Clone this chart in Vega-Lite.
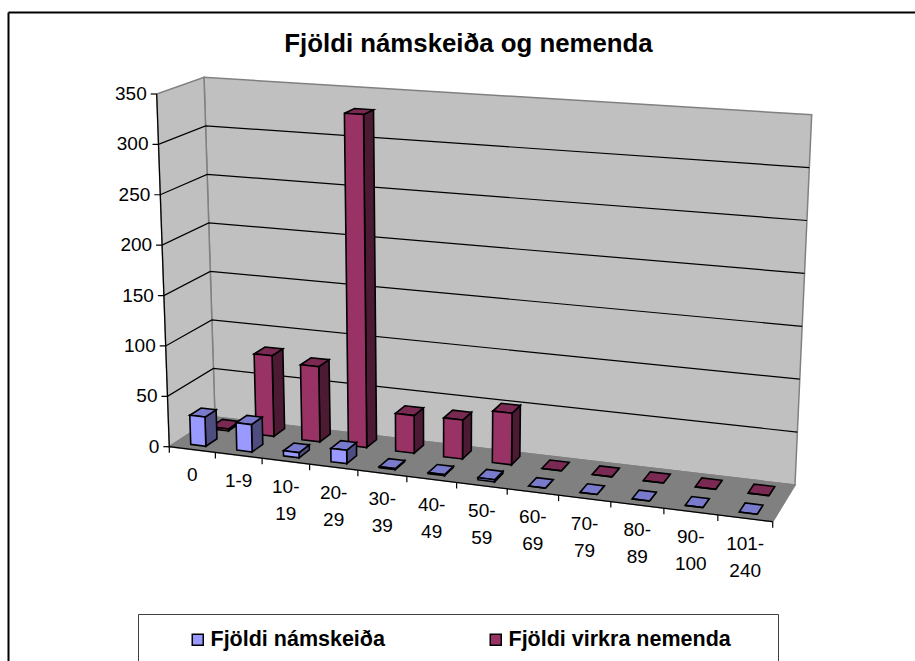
{
"$schema":"https://vega.github.io/schema/vega-lite/v6.json",
"width":907,"height":649,"autosize":{"type":"none"},"padding":{"left":8,"top":12,"right":0,"bottom":0},
"background":"white",
"config":{"view":{"stroke":null},"font":"Liberation Sans"},
"title":{"text":"Fjöldi námskeiða og nemenda","font":"Liberation Sans","fontSize":25.8,"fontWeight":"bold","color":"black","anchor":"middle","dx":7,"dy":66,"offset":0,"baseline":"alphabetic"},
"datasets":{
"bars":[
{"kategoria":"0","idx":0,"series":"Fjöldi virkra nemenda","value":2},
{"kategoria":"1-9","idx":1,"series":"Fjöldi virkra nemenda","value":81},
{"kategoria":"10-19","idx":2,"series":"Fjöldi virkra nemenda","value":75},
{"kategoria":"20-29","idx":3,"series":"Fjöldi virkra nemenda","value":330},
{"kategoria":"30-39","idx":4,"series":"Fjöldi virkra nemenda","value":37},
{"kategoria":"40-49","idx":5,"series":"Fjöldi virkra nemenda","value":38},
{"kategoria":"50-59","idx":6,"series":"Fjöldi virkra nemenda","value":50},
{"kategoria":"60-69","idx":7,"series":"Fjöldi virkra nemenda","value":0},
{"kategoria":"70-79","idx":8,"series":"Fjöldi virkra nemenda","value":0},
{"kategoria":"80-89","idx":9,"series":"Fjöldi virkra nemenda","value":0},
{"kategoria":"90-100","idx":10,"series":"Fjöldi virkra nemenda","value":0},
{"kategoria":"101-240","idx":11,"series":"Fjöldi virkra nemenda","value":0},
{"kategoria":"0","idx":0,"series":"Fjöldi námskeiða","value":29},
{"kategoria":"1-9","idx":1,"series":"Fjöldi námskeiða","value":27},
{"kategoria":"10-19","idx":2,"series":"Fjöldi námskeiða","value":5},
{"kategoria":"20-29","idx":3,"series":"Fjöldi námskeiða","value":13},
{"kategoria":"30-39","idx":4,"series":"Fjöldi námskeiða","value":1},
{"kategoria":"40-49","idx":5,"series":"Fjöldi námskeiða","value":1},
{"kategoria":"50-59","idx":6,"series":"Fjöldi námskeiða","value":2},
{"kategoria":"60-69","idx":7,"series":"Fjöldi námskeiða","value":0},
{"kategoria":"70-79","idx":8,"series":"Fjöldi námskeiða","value":0},
{"kategoria":"80-89","idx":9,"series":"Fjöldi námskeiða","value":0},
{"kategoria":"90-100","idx":10,"series":"Fjöldi námskeiða","value":0},
{"kategoria":"101-240","idx":11,"series":"Fjöldi námskeiða","value":0}
],
"ticks":[{"value":0},{"value":50},{"value":100},{"value":150},{"value":200},{"value":250},{"value":300},{"value":350}]
},
"layer":[
{"data":{"name":"bars"},"mark":{"type":"point","opacity":0},
"encoding":{
"x":{"field":"kategoria","type":"ordinal","sort":null,"axis":{"orient":"top","labels":false,"ticks":false,"title":null,"grid":false,"domainColor":"black","domainWidth":2}},
"y":{"field":"value","type":"quantitative","axis":{"orient":"left","labels":false,"ticks":false,"title":null,"grid":false,"domainColor":"black","domainWidth":2}}}},
{"data":{"values":[{"plane":"back"},{"plane":"side"},{"plane":"floor"}]},
"transform":[
{"calculate":"[0,1,2,3]","as":"k"},{"flatten":["k"]},
{"calculate":"datum.plane=='side'?0:((datum.k==1||datum.k==2)?12:0)","as":"cc"},
{"calculate":"datum.plane=='back'?1:datum.plane=='side'?((datum.k==1||datum.k==2)?1:0):(datum.k>=2?1:0)","as":"dd"},
{"calculate":"datum.plane=='floor'?0:(datum.k>=2?1:0)","as":"tt"},
{"calculate":"(datum.cc/12)/((datum.cc/12)+1.1*(1-datum.cc/12))","as":"uu"},
{"calculate":"(1-datum.tt)*((1-datum.dd)*((1-datum.uu)*169.3+datum.uu*772.7)+datum.dd*((1-datum.uu)*215+datum.uu*795))+datum.tt*((1-datum.dd)*((1-datum.uu)*156.7+datum.uu*790.7)+datum.dd*((1-datum.uu)*204+datum.uu*811.7))","as":"X"},
{"calculate":"(1-datum.tt)*((1-datum.dd)*((1-datum.uu)*446.7+datum.uu*521.7)+datum.dd*((1-datum.uu)*417+datum.uu*485))+datum.tt*((1-datum.dd)*((1-datum.uu)*94+datum.uu*137)+datum.dd*((1-datum.uu)*77.3+datum.uu*114.7))","as":"Y"},
{"aggregate":[{"op":"values","as":"p"}],"groupby":["plane"]},
{"calculate":"{type:'Feature',properties:{},geometry:{type:'Polygon',coordinates:[[[datum.p[0].X,datum.p[0].Y],[datum.p[1].X,datum.p[1].Y],[datum.p[2].X,datum.p[2].Y],[datum.p[3].X,datum.p[3].Y],[datum.p[0].X,datum.p[0].Y]]]}}","as":"geo"}
],
"projection":{"type":"identity","scale":1,"translate":[-8,-12]},
"mark":{"type":"geoshape","stroke":"#808080","strokeWidth":1.5},
"encoding":{"shape":{"field":"geo","type":"geojson"},"fill":{"condition":{"test":"datum.plane=='floor'","value":"#808080"},"value":"#C0C0C0"}}},
{"data":{"name":"ticks"},
"transform":[
{"calculate":"[0,1,2,3]","as":"k"},{"flatten":["k"]},
{"calculate":"(datum.value>0&&datum.value<350&&datum.k==3)?12:0","as":"cc"},
{"calculate":"(datum.value>0&&datum.value<350&&datum.k>=2)?1:0","as":"dd"},
{"calculate":"datum.value/350","as":"tt"},
{"calculate":"(datum.cc/12)/((datum.cc/12)+1.1*(1-datum.cc/12))","as":"uu"},
{"calculate":"(datum.k==0?-6:0)+(1-datum.tt)*((1-datum.dd)*((1-datum.uu)*169.3+datum.uu*772.7)+datum.dd*((1-datum.uu)*215+datum.uu*795))+datum.tt*((1-datum.dd)*((1-datum.uu)*156.7+datum.uu*790.7)+datum.dd*((1-datum.uu)*204+datum.uu*811.7))","as":"X"},
{"calculate":"(1-datum.tt)*((1-datum.dd)*((1-datum.uu)*446.7+datum.uu*521.7)+datum.dd*((1-datum.uu)*417+datum.uu*485))+datum.tt*((1-datum.dd)*((1-datum.uu)*94+datum.uu*137)+datum.dd*((1-datum.uu)*77.3+datum.uu*114.7))","as":"Y"},
{"aggregate":[{"op":"values","as":"p"}],"groupby":["value"]},
{"calculate":"{type:'Feature',properties:{},geometry:{type:'LineString',coordinates:[[datum.p[0].X,datum.p[0].Y],[datum.p[1].X,datum.p[1].Y],[datum.p[2].X,datum.p[2].Y],[datum.p[3].X,datum.p[3].Y]]}}","as":"geo"}
],
"projection":{"type":"identity","scale":1,"translate":[-8,-12]},
"mark":{"type":"geoshape","filled":false,"stroke":"black","strokeWidth":1.2},
"encoding":{"shape":{"field":"geo","type":"geojson"}}},
{"data":{"values":[{"line":"y","pos":0},{"line":"x","pos":0},{"line":"t","pos":0},{"line":"t","pos":1},{"line":"t","pos":2},{"line":"t","pos":3},{"line":"t","pos":4},{"line":"t","pos":5},{"line":"t","pos":6},{"line":"t","pos":7},{"line":"t","pos":8},{"line":"t","pos":9},{"line":"t","pos":10},{"line":"t","pos":11},{"line":"t","pos":12}]},
"transform":[
{"calculate":"[0,1]","as":"k"},{"flatten":["k"]},
{"calculate":"datum.line=='x'?datum.k*12:datum.line=='t'?datum.pos:0","as":"cc"},
{"calculate":"0","as":"dd"},
{"calculate":"datum.line=='y'?datum.k:0","as":"tt"},
{"calculate":"(datum.cc/12)/((datum.cc/12)+1.1*(1-datum.cc/12))","as":"uu"},
{"calculate":"(1-datum.tt)*((1-datum.uu)*169.3+datum.uu*772.7)+datum.tt*((1-datum.uu)*156.7+datum.uu*790.7)","as":"X"},
{"calculate":"(datum.line=='t'&&datum.k==1?6:0)+(1-datum.tt)*((1-datum.uu)*446.7+datum.uu*521.7)+datum.tt*((1-datum.uu)*94+datum.uu*137)","as":"Y"},
{"aggregate":[{"op":"values","as":"p"}],"groupby":["line","pos"]},
{"calculate":"{type:'Feature',properties:{},geometry:{type:'LineString',coordinates:[[datum.p[0].X,datum.p[0].Y],[datum.p[1].X,datum.p[1].Y]]}}","as":"geo"}
],
"projection":{"type":"identity","scale":1,"translate":[-8,-12]},
"mark":{"type":"geoshape","filled":false,"stroke":"black","strokeWidth":1.2},
"encoding":{"shape":{"field":"geo","type":"geojson"}}},
{"data":{"name":"bars"},
"transform":[
{"calculate":"['side','top','front']","as":"face"},{"flatten":["face"]},
{"calculate":"[0,1,2,3]","as":"k"},{"flatten":["k"]},
{"calculate":"datum.series=='Fjöldi námskeiða'?0.14:0.65","as":"d0"},
{"calculate":"datum.series=='Fjöldi námskeiða'?0.33:0.27","as":"c0"},
{"calculate":"datum.idx+(datum.face=='side'||datum.k==1||datum.k==2?0.66:datum.c0)","as":"cc"},
{"calculate":"datum.d0+(datum.face=='front'?0:datum.face=='side'?((datum.k==1||datum.k==2)?0.25:0):(datum.k>=2?0.25:0))","as":"dd"},
{"calculate":"(datum.face=='top'||datum.k>=2)?datum.value/350:0","as":"tt"},
{"calculate":"(datum.cc/12)/((datum.cc/12)+1.1*(1-datum.cc/12))","as":"uu"},
{"calculate":"(1-datum.tt)*((1-datum.dd)*((1-datum.uu)*169.3+datum.uu*772.7)+datum.dd*((1-datum.uu)*215+datum.uu*795))+datum.tt*((1-datum.dd)*((1-datum.uu)*156.7+datum.uu*790.7)+datum.dd*((1-datum.uu)*204+datum.uu*811.7))","as":"X"},
{"calculate":"(1-datum.tt)*((1-datum.dd)*((1-datum.uu)*446.7+datum.uu*521.7)+datum.dd*((1-datum.uu)*417+datum.uu*485))+datum.tt*((1-datum.dd)*((1-datum.uu)*94+datum.uu*137)+datum.dd*((1-datum.uu)*77.3+datum.uu*114.7))","as":"Y"},
{"aggregate":[{"op":"values","as":"p"}],"groupby":["series","idx","face"]},
{"calculate":"datum.face=='front'?datum.series:datum.series+' '+datum.face","as":"key"},
{"calculate":"{type:'Feature',properties:{},geometry:{type:'Polygon',coordinates:[[[datum.p[0].X,datum.p[0].Y],[datum.p[1].X,datum.p[1].Y],[datum.p[2].X,datum.p[2].Y],[datum.p[3].X,datum.p[3].Y],[datum.p[0].X,datum.p[0].Y]]]}}","as":"geo"}
],
"projection":{"type":"identity","scale":1,"translate":[-8,-12]},
"mark":{"type":"geoshape","stroke":"black","strokeWidth":1.6},
"encoding":{"shape":{"field":"geo","type":"geojson"},
"fill":{"field":"key","type":"nominal","scale":{"domain":["Fjöldi námskeiða","Fjöldi virkra nemenda","Fjöldi námskeiða side","Fjöldi námskeiða top","Fjöldi virkra nemenda side","Fjöldi virkra nemenda top"],"range":["#9999FF","#993366","#4D4D80","#7A7ACC","#4D1A33","#7A2952"]},
"legend":{"values":["Fjöldi námskeiða","Fjöldi virkra nemenda"],"title":"\u00a0","titleOrient":"right","titlePadding":32,"titleFontSize":10,"orient":"none","legendX":130,"legendY":602,"direction":"horizontal","columns":2,"gridAlign":"none","columnPadding":66,"padding":15,"symbolOffset":34,"strokeColor":"#404040","fillColor":"white","symbolType":"square","symbolSize":121,"symbolStrokeColor":"black","symbolStrokeWidth":1.5,"labelFont":"Liberation Sans","labelFontSize":21.5,"labelFontWeight":"bold","labelColor":"black","labelOffset":2,"labelLimit":500}}}},
{"data":{"name":"ticks"},
"transform":[
{"calculate":"datum.value/350","as":"tt"},
{"calculate":"(1-datum.tt)*169.3+datum.tt*156.7","as":"X"},
{"calculate":"(1-datum.tt)*446.7+datum.tt*94","as":"Y"}
],
"projection":{"type":"identity","scale":1,"translate":[-8,-12]},
"mark":{"type":"text","align":"right","baseline":"middle","dx":-10,"fontSize":19,"font":"Liberation Sans","color":"black"},
"encoding":{"longitude":{"field":"X","type":"quantitative"},"latitude":{"field":"Y","type":"quantitative"},"text":{"field":"value","type":"quantitative"}}},
{"data":{"name":"bars"},
"transform":[
{"filter":"datum.series=='Fjöldi námskeiða'"},
{"calculate":"(datum.idx+0.5)/12","as":"ss"},
{"calculate":"datum.ss/(datum.ss+1.1*(1-datum.ss))","as":"uu"},
{"calculate":"(1-datum.uu)*169.3+datum.uu*772.7","as":"X"},
{"calculate":"(1-datum.uu)*446.7+datum.uu*521.7","as":"Y"},
{"calculate":"length(datum.kategoria)>3?replace(datum.kategoria,'-','-\\n'):datum.kategoria","as":"lbl"}
],
"projection":{"type":"identity","scale":1,"translate":[-8,-12]},
"mark":{"type":"text","align":"center","baseline":"top","dy":16.5,"fontSize":19,"lineHeight":27,"lineBreak":"\n","font":"Liberation Sans","color":"black"},
"encoding":{"longitude":{"field":"X","type":"quantitative"},"latitude":{"field":"Y","type":"quantitative"},"text":{"field":"lbl","type":"nominal"}}}
],
"resolve":{"scale":{"x":"independent","y":"independent"}}
}
